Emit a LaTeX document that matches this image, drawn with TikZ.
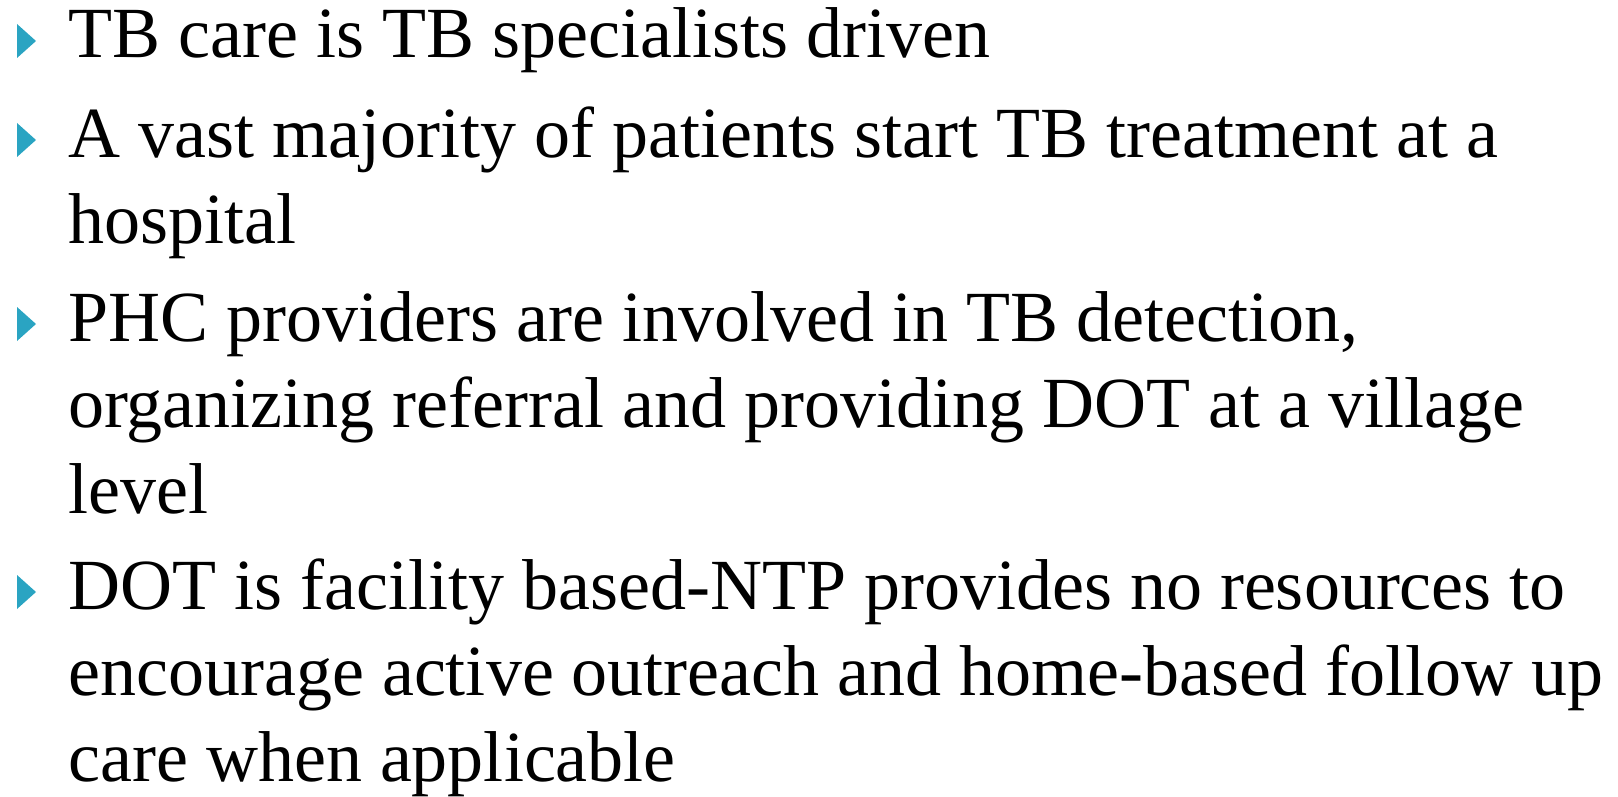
\documentclass[tikz,border=0pt]{standalone}
\usepackage{fontspec}
\setmainfont{Liberation Serif}
\usetikzlibrary{positioning,calc}
\definecolor{ink}{RGB}{0,0,0}
\definecolor{tick}{RGB}{42,164,194}
\tikzset{
  every picture/.style={x=1pt, y=1pt},
  point/.style={anchor=base west, inner sep=0pt, align=left, text=ink,
    font=\fontsize{72}{86}\selectfont},
  pointer/.style={fill=tick, draw=none},
}
\begin{document}
\begin{tikzpicture}
  % bullet list, one node per point; a node's base is its last line
  \useasboundingbox (0,0) rectangle (1618,-797);
  \node[point] (p1) at (68,-58) {TB care is TB specialists driven};
  \node[point] (p2) at (68,-243) {A vast majority of patients start TB treatment at a\\ hospital};
  \node[point] (p3) at (68,-513) {PHC providers are involved in TB detection,\\ organizing referral and providing DOT at a village\\ level};
  \node[point] (p4) at (68,-781) {DOT is facility based-NTP provides no resources to\\ encourage active outreach and home-based follow up\\ care when applicable};
  % the little triangles in front of each first line
  \foreach \n/\k in {p1/0,p2/1,p3/2,p4/2}
    \fill[pointer] ($(\n.base west)+(-51,86*\k)$) -- ++(0,34) -- ++(19,-17) -- cycle;
\end{tikzpicture}
\end{document}
